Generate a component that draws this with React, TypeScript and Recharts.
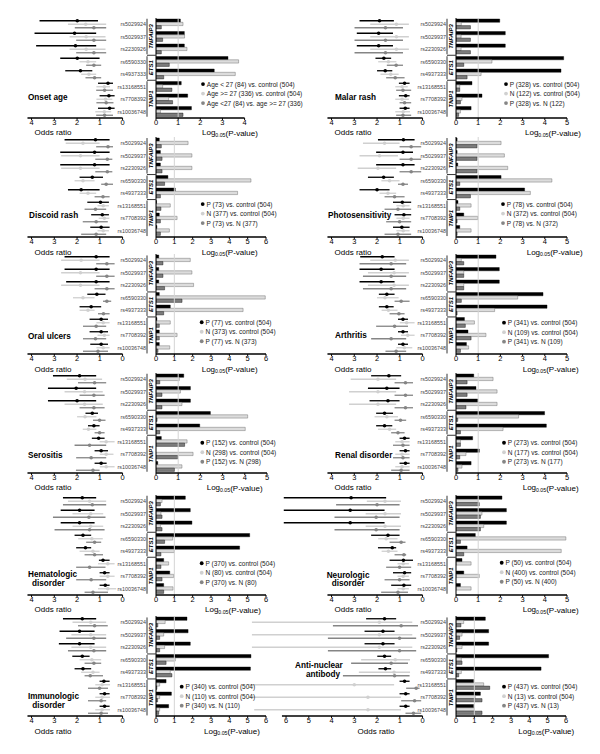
import React from 'react'
import { ScatterChart, Scatter, ErrorBar, XAxis, YAxis, BarChart, Bar, ReferenceLine } from 'recharts'

const snps = ['rs5029924', 'rs5029937', 'rs2230926', 'rs6590330', 'rs4937333', 'rs13168551', 'rs7708392', 'rs10036748']
const genes: [string, number, number][] = [['TNFAIP3', 0, 2], ['ETS1', 3, 4], ['TNIP1', 5, 7]]

// odds ratios per snp: [black OR, lo, hi, light OR, lo, hi, grey OR, lo, hi]
const onsetAgeOR = [
  [1.99, 1.08, 3.65, 1.62, 0.72, 2.4, 1.26, 0.72, 2.1],
  [2.11, 1.16, 3.87, 1.6, 0.75, 2.33, 1.26, 0.72, 2.04],
  [2.07, 1.16, 3.8, 1.6, 0.75, 2.33, 1.26, 0.72, 2.04],
  [1.99, 1.01, 2.74, 1.52, 1.16, 1.89, 1.26, 0.94, 1.6],
  [1.85, 1.33, 2.52, 1.48, 1.16, 1.82, 1.23, 0.94, 1.63],
  [0.64, 0.42, 1.08, 0.8, 0.55, 1.15, 0.79, 0.42, 1.16],
  [0.6, 0.35, 1.01, 0.75, 0.45, 1.15, 0.72, 0.4, 1.15],
  [0.57, 0.35, 1.08, 0.8, 0.5, 1.2, 0.79, 0.42, 1.16],
]
// log0.05 p-values per snp: [black, light, grey]
const onsetAgeP = [
  [1.1, 1.22, 0.24], [1.28, 1.29, 0.3], [1.28, 1.4, 0.24], [3.25, 3.73, 0.6],
  [2.63, 3.58, 0.35], [1.14, 0.3, 0.72], [1.43, 0.57, 0.75], [1.6, 0.2, 1.22],
]

const malarRashOR = [
  [1.89, 1.26, 2.77, 1.15, 0.6, 2.3, 1.63, 0.86, 2.99],
  [1.93, 1.3, 2.89, 1.15, 0.6, 2.3, 1.63, 0.86, 2.99],
  [1.93, 1.3, 2.89, 1.15, 0.6, 2.3, 1.63, 0.86, 2.99],
  [1.7, 1.38, 2.07, 1.5, 1.15, 1.95, 1.16, 0.86, 1.57],
  [1.64, 1.33, 2.0, 1.4, 1.05, 1.85, 1.2, 0.79, 1.6],
  [0.79, 0.57, 1.04, 0.9, 0.65, 1.2, 0.86, 0.5, 1.16],
  [0.74, 0.57, 1.04, 0.9, 0.6, 1.2, 0.79, 0.5, 1.01],
  [0.76, 0.57, 1.01, 0.85, 0.55, 1.2, 0.86, 0.5, 1.16],
]
const malarRashP = [
  [1.97, 0.24, 0.65], [2.22, 0.23, 0.65], [2.22, 0.23, 0.65], [4.85, 1.62, 0.35],
  [4.73, 1.13, 0.5], [0.72, 0.17, 0.17], [1.17, 0.27, 0.2], [0.68, 0.2, 0.12],
]

const discoidRashOR = [
  [1.19, 0.57, 2.55, 1.74, 1.01, 2.5, 0.64, 0.42, 1.16],
  [1.23, 0.57, 2.74, 1.85, 1.01, 2.7, 0.67, 0.45, 1.2],
  [1.23, 0.57, 2.74, 1.85, 1.01, 2.7, 0.67, 0.45, 1.2],
  [1.33, 0.86, 1.89, 1.74, 1.23, 2.11, 0.72, 0.42, 0.94],
  [1.82, 1.01, 2.4, 1.52, 1.16, 1.89, 0.86, 0.57, 1.23],
  [0.97, 0.6, 1.55, 0.85, 0.6, 1.1, 1.19, 0.72, 1.67],
  [0.89, 0.6, 1.38, 0.8, 0.58, 1.05, 1.16, 0.65, 1.75],
  [0.94, 0.57, 1.42, 0.85, 0.6, 1.1, 1.16, 0.72, 1.82],
]
const discoidRashP = [
  [0.18, 1.75, 0.29], [0.24, 1.96, 0.33], [0.24, 1.96, 0.33], [0.65, 5.18, 0.47],
  [1.05, 4.45, 0.24], [0.03, 0.78, 0.27], [0.18, 1.15, 0.24], [0.05, 0.73, 0.24],
]

const photosensitivityOR = [
  [0.84, 0.35, 1.96, 1.67, 1.01, 2.62, 0.5, 0.06, 1.01],
  [0.86, 0.42, 2.04, 1.89, 1.08, 2.77, 0.5, 0.06, 1.01],
  [0.86, 0.35, 2.04, 1.96, 1.16, 2.85, 0.5, 0.06, 1.01],
  [1.71, 1.26, 2.4, 1.45, 1.01, 1.81, 0.86, 0.64, 1.08],
  [2.0, 1.45, 2.77, 1.52, 1.16, 1.89, 1.23, 0.79, 1.67],
  [0.89, 0.5, 1.3, 0.85, 0.57, 1.15, 1.08, 0.5, 1.67],
  [0.82, 0.5, 1.23, 0.85, 0.57, 1.15, 1.01, 0.5, 1.6],
  [0.91, 0.57, 1.3, 0.85, 0.57, 1.15, 1.08, 0.5, 1.67],
]
const photosensitivityP = [
  [0.05, 2.03, 0.95], [0.05, 2.18, 0.95], [0.08, 2.33, 0.95], [2.03, 4.32, 0.17],
  [3.09, 3.35, 0.65], [0.09, 0.68, 0.17], [0.35, 0.98, 0.05], [0.17, 0.68, 0.05],
]

const oralUlcersOR = [
  [1.16, 0.57, 2.55, 1.82, 1.01, 2.7, 0.69, 0.35, 1.16],
  [1.16, 0.57, 2.55, 1.85, 1.01, 2.7, 0.69, 0.35, 1.16],
  [1.16, 0.57, 2.48, 1.85, 1.01, 2.7, 0.69, 0.35, 1.23],
  [1.13, 0.75, 1.55, 1.74, 1.23, 2.18, 0.69, 0.5, 0.86],
  [1.38, 0.94, 1.89, 1.52, 1.23, 1.89, 0.84, 0.57, 1.08],
  [0.94, 0.64, 1.45, 0.85, 0.57, 1.15, 1.16, 0.72, 1.74],
  [0.94, 0.64, 1.45, 0.8, 0.57, 1.1, 1.19, 0.72, 1.74],
  [0.94, 0.64, 1.42, 0.85, 0.57, 1.15, 1.08, 0.64, 1.74],
]
const oralUlcersP = [
  [0.15, 1.87, 0.38], [0.15, 1.96, 0.38], [0.15, 2.05, 0.47], [0.18, 5.96, 1.42],
  [0.78, 4.75, 0.42], [0.05, 0.78, 0.18], [0.18, 1.15, 0.18], [0.18, 0.75, 0.11],
]

const arthritisOR = [
  [1.77, 1.23, 2.74, 1.2, 0.6, 2.3, 1.38, 0.72, 2.77],
  [1.82, 1.23, 2.77, 1.25, 0.6, 2.4, 1.38, 0.72, 2.62],
  [1.82, 1.23, 2.77, 1.25, 0.6, 2.4, 1.38, 0.72, 2.62],
  [1.57, 1.23, 1.92, 1.65, 1.05, 2.0, 0.94, 0.57, 1.23],
  [1.57, 1.27, 1.92, 1.5, 1.1, 1.8, 1.04, 0.79, 1.45],
  [0.86, 0.64, 1.08, 0.7, 0.35, 1.0, 1.23, 0.64, 2.04],
  [0.86, 0.64, 1.08, 0.65, 0.35, 0.95, 1.38, 0.72, 2.26],
  [0.86, 0.64, 1.08, 0.8, 0.45, 1.15, 1.16, 0.72, 1.63],
]
const arthritisP = [
  [1.8, 0.24, 0.35], [1.95, 0.35, 0.35], [1.95, 0.35, 0.35], [3.92, 2.78, 0.24],
  [4.1, 1.74, 0.05], [0.38, 0.83, 0.42], [0.54, 1.35, 0.68], [0.47, 0.57, 0.2],
]

const serositisOR = [
  [1.89, 1.16, 3.06, 1.65, 0.9, 2.45, 1.23, 0.72, 1.96],
  [2.04, 1.16, 3.28, 1.67, 0.87, 2.55, 1.26, 0.79, 1.89],
  [2.0, 1.16, 3.28, 1.67, 0.87, 2.55, 1.26, 0.79, 1.89],
  [1.33, 1.08, 1.63, 1.65, 1.15, 2.0, 1.01, 0.75, 1.3],
  [1.26, 1.01, 1.52, 1.5, 1.15, 1.75, 1.01, 0.79, 1.23],
  [1.05, 0.79, 1.35, 0.72, 0.35, 1.01, 1.45, 0.72, 2.11],
  [0.94, 0.64, 1.23, 0.72, 0.4, 1.0, 1.38, 0.72, 2.04],
  [0.94, 0.7, 1.23, 0.72, 0.35, 1.0, 1.3, 1.01, 2.05],
]
const serositisP = [
  [1.25, 1.05, 0.17], [1.55, 1.1, 0.27], [1.55, 1.17, 0.27], [2.45, 4.13, 0.05],
  [1.97, 4.02, 0.17], [0.24, 1.4, 1.29], [0.0, 1.67, 0.98], [0.08, 1.17, 0.83],
]

const renalOR = [
  [1.48, 0.94, 2.26, 1.96, 1.16, 3.16, 0.75, 0.42, 1.23],
  [1.57, 1.01, 2.4, 1.96, 1.16, 3.23, 0.75, 0.42, 1.23],
  [1.52, 1.01, 2.33, 1.96, 1.16, 3.23, 0.75, 0.42, 1.23],
  [1.67, 1.3, 2.04, 1.57, 1.08, 2.11, 0.97, 0.72, 1.23],
  [1.67, 1.33, 2.04, 1.45, 1.16, 1.96, 1.08, 0.79, 1.38],
  [0.79, 0.57, 1.01, 0.9, 0.57, 1.2, 0.86, 0.57, 1.3],
  [0.75, 0.57, 1.01, 0.9, 0.57, 1.2, 0.86, 0.57, 1.3],
  [0.75, 0.57, 1.01, 0.9, 0.57, 1.2, 0.94, 0.57, 1.38],
]
const renalP = [
  [0.8, 1.67, 0.5], [0.9, 1.85, 0.5], [0.98, 1.85, 0.45], [3.99, 2.82, 0.08],
  [4.07, 2.12, 0.2], [0.75, 0.2, 0.2], [1.05, 0.45, 0.17], [0.68, 0.27, 0.09],
]

const hematologicOR = [
  [1.77, 1.16, 2.62, 1.45, 0.72, 2.4, 1.33, 0.72, 2.62],
  [1.89, 1.23, 2.72, 1.4, 0.85, 2.2, 1.48, 0.75, 3.06],
  [1.89, 1.23, 2.72, 1.4, 0.85, 2.2, 1.45, 0.79, 2.99],
  [1.74, 1.38, 2.11, 1.35, 0.87, 1.95, 1.23, 0.94, 1.6],
  [1.63, 1.38, 2.04, 1.3, 1.01, 1.89, 1.23, 0.86, 1.67],
  [0.86, 0.57, 1.04, 0.65, 0.35, 1.08, 1.45, 0.75, 2.04],
  [0.79, 0.57, 1.01, 0.65, 0.35, 1.01, 1.38, 0.72, 2.04],
  [0.76, 0.57, 1.01, 0.65, 0.28, 1.08, 1.3, 0.64, 1.67],
]
const hematologicP = [
  [1.6, 0.33, 0.24], [1.87, 0.27, 0.33], [1.96, 0.24, 0.33], [5.11, 0.91, 0.47],
  [4.56, 1.0, 0.27], [0.42, 0.69, 0.27], [0.75, 0.96, 0.33], [0.42, 0.93, 0.42],
]

const neurologicOR = [
  [3.14, 1.6, 6.1, 1.65, 0.95, 2.45, 2.0, 1.01, 3.8],
  [3.18, 1.67, 6.1, 1.65, 0.95, 2.5, 2.04, 1.01, 3.87],
  [3.18, 1.67, 6.1, 1.65, 0.95, 2.5, 2.04, 1.01, 3.87],
  [1.52, 1.01, 2.26, 1.6, 1.1, 1.95, 0.94, 0.75, 1.45],
  [1.33, 1.16, 1.96, 1.5, 1.1, 1.8, 0.82, 0.72, 1.23],
  [0.84, 0.42, 1.45, 0.85, 0.6, 1.1, 1.01, 0.5, 1.6],
  [0.79, 0.5, 1.3, 0.85, 0.6, 1.1, 1.01, 0.57, 1.67],
  [0.82, 0.5, 1.38, 0.85, 0.6, 1.1, 1.08, 0.64, 1.82],
]
const neurologicP = [
  [2.07, 1.0, 1.05], [2.27, 1.17, 1.1], [2.27, 1.25, 1.1], [0.87, 4.95, 0.2],
  [0.5, 4.74, 0.35], [0.27, 0.68, 0.0], [0.35, 1.05, 0.0], [0.2, 0.68, 0.0],
]

const immunologicOR = [
  [1.77, 1.16, 2.62, 1.4, 0.72, 2.2, 1.23, 0.65, 1.96],
  [1.89, 1.23, 2.77, 1.4, 0.72, 2.25, 1.26, 0.72, 2.48],
  [1.89, 1.23, 2.8, 1.4, 0.72, 2.25, 1.26, 0.72, 2.4],
  [1.77, 1.45, 2.21, 1.35, 0.94, 1.89, 1.26, 0.94, 1.67],
  [1.74, 1.38, 2.11, 1.3, 1.01, 1.82, 1.42, 0.86, 1.67],
  [0.82, 0.57, 1.01, 0.9, 0.55, 1.2, 1.01, 0.64, 1.52],
  [0.79, 0.57, 1.01, 0.9, 0.55, 1.2, 0.94, 0.72, 1.52],
  [0.79, 0.57, 1.01, 0.9, 0.55, 1.2, 0.94, 0.64, 1.52],
]
const immunologicP = [
  [1.69, 0.5, 0.1], [1.75, 0.42, 0.2], [1.87, 0.47, 0.2], [5.18, 1.05, 0.55],
  [5.15, 0.78, 0.87], [0.55, 0.2, 0.05], [0.84, 0.2, 0.09], [0.69, 0.2, 0.15],
]

const antiNuclearOR = [
  [1.67, 1.16, 2.48, 1.9, 0.45, 7.5, 0.94, 0.2, 3.94],
  [1.74, 1.23, 2.55, 1.9, 0.45, 7.5, 1.01, 0.28, 4.16],
  [1.74, 1.23, 2.55, 1.9, 0.45, 7.5, 1.01, 0.28, 4.16],
  [1.67, 1.38, 1.99, 1.2, 0.55, 2.7, 1.38, 0.64, 3.14],
  [1.63, 1.38, 1.94, 1.25, 0.55, 2.8, 1.23, 0.57, 3.5],
  [0.79, 0.57, 1.01, 3.0, 1.25, 7.7, 0.28, 0.13, 0.72],
  [0.74, 0.57, 1.01, 2.4, 0.95, 7.6, 0.35, 0.06, 0.94],
  [0.74, 0.57, 1.01, 2.4, 0.95, 7.4, 0.4, 0.06, 0.75],
]
const antiNuclearP = [
  [1.6, 0.42, 0.27], [1.78, 0.33, 0.2], [1.78, 0.33, 0.05], [5.05, 0.29, 0.33],
  [4.64, 0.29, 0.15], [0.96, 1.51, 1.84], [1.33, 1.05, 1.42], [0.96, 1.0, 1.42],
]

const pnLegend = (p: number, n: number) => [
  `P (${p}) vs. control (504)`,
  `N (${n}) vs. control (504)`,
  `P (${p}) vs. N (${n})`,
]

type Panel = {
  title: [string, number, number][]
  or: number[][]
  p: number[][]
  legend: string[]
  pMax: number
  orMax: number
  col: number
  row: number
  legendX: number
  legendY: number
  logX: number
  oddsX: number
}

const panels: Panel[] = [
  { title: [['Onset age', 28, -20.75]], or: onsetAgeOR, p: onsetAgeP, pMax: 4, orMax: 4, col: 0, row: 0, legendX: 203, legendY: -33.7, logX: 202, oddsX: 53,
    legend: ['Age < 27 (84) vs. control (504)', 'Age >= 27 (336) vs. control (504)', 'Age <27 (84) vs. age >= 27 (336)'] },
  { title: [['Malar rash', 35, -20.75]], or: malarRashOR, p: malarRashP, pMax: 5, orMax: 4, col: 1, row: 0, legendX: 206, legendY: -33.7, logX: 225, oddsX: 53, legend: pnLegend(328, 122) },
  { title: [['Discoid rash', 29, -22]], or: discoidRashOR, p: discoidRashP, pMax: 6, orMax: 4, col: 0, row: 1, legendX: 202.7, legendY: -33, logX: 201.7, oddsX: 53, legend: pnLegend(73, 377) },
  { title: [['Photosensitivity', 28, -22]], or: photosensitivityOR, p: photosensitivityP, pMax: 5, orMax: 4, col: 1, row: 1, legendX: 203, legendY: -33, logX: 226.7, oddsX: 53, legend: pnLegend(78, 372) },
  { title: [['Oral ulcers', 28, -17.5]], or: oralUlcersOR, p: oralUlcersP, pMax: 6, orMax: 4, col: 0, row: 2, legendX: 201.7, legendY: -32.2, logX: 201.7, oddsX: 53, legend: pnLegend(77, 373) },
  { title: [['Arthritis', 35, -18.5]], or: arthritisOR, p: arthritisP, pMax: 5, orMax: 4, col: 1, row: 2, legendX: 204, legendY: -31.8, logX: 222.7, oddsX: 53, legend: pnLegend(341, 109) },
  { title: [['Serositis', 28, -17.75]], or: serositisOR, p: serositisP, pMax: 5, orMax: 4, col: 0, row: 3, legendX: 202.3, legendY: -30, logX: 206.7, oddsX: 53, legend: pnLegend(152, 298) },
  { title: [['Renal disorder', 35, -17]], or: renalOR, p: renalP, pMax: 5, orMax: 4, col: 1, row: 3, legendX: 204, legendY: -30, logX: 222.7, oddsX: 53, legend: pnLegend(273, 177) },
  { title: [['Hematologic', 28, -20.75], ['disorder', 32, -11.75]], or: hematologicOR, p: hematologicP, pMax: 6, orMax: 4, col: 0, row: 4, legendX: 201.7, legendY: -31.5, logX: 205, oddsX: 53, legend: pnLegend(370, 80) },
  { title: [['Neurologic', 26.7, -19.75], ['disorder', 31.7, -11.75]], or: neurologicOR, p: neurologicP, pMax: 5, orMax: 4, col: 1, row: 4, legendX: 201.7, legendY: -32, logX: 222.7, oddsX: 53, legend: pnLegend(50, 400) },
  { title: [['Immunologic', 28, -19.5], ['disorder', 32.3, -10.5]], or: immunologicOR, p: immunologicP, pMax: 6, orMax: 4, col: 0, row: 5, legendX: 181.7, legendY: -29.8, logX: 204, oddsX: 53, legend: pnLegend(340, 110) },
  { title: [['Anti-nuclear', -5, -50.5], ['antibody', 6, -41.5]], or: antiNuclearOR, p: antiNuclearP, pMax: 6, orMax: 6, col: 1, row: 5, legendX: 204, legendY: -29.8, logX: 218.3, oddsX: 76, legend: pnLegend(437, 13) },
]

const ROW_TOP = [17.75, 137.05, 254.45, 372.75, 494.75, 616.45]
const COL_X = [0, 300]
const PLOT_H = 100
const AXIS_H = 25
const OR_ZERO = 123
const OR_UNIT = 22.75
const BAR_ZERO = 155.7
const BAR_W: Record<number, number> = { 4: 88.6, 5: 111, 6: 110 }
const SNP_W = 60
const SLOT = PLOT_H / snps.length
const DOT = ['#000000', '#d0d0d0', '#858585']
const FILL = ['#000000', '#dcdcdc', '#7d7d7d']
const FONT = '"Liberation Sans", Arial, sans-serif'
const TICK = { fontSize: 7.5, fill: '#000', fontFamily: FONT }

function Forest({ panel }: { panel: Panel }) {
  const span = panel.col === 0 ? 5.3 : 8.2
  const w = OR_UNIT * span
  const ticks = Array.from({ length: panel.orMax + 1 }, (_, i) => i)
  const series = [0, 1, 2].map((s) =>
    panel.or.map((r, i) => ({
      x: r[s * 3],
      y: i + (s - 1) * 0.28,
      err: [r[s * 3] - r[s * 3 + 1], r[s * 3 + 2] - r[s * 3]],
    })),
  )
  return (
    <div style={{ position: 'absolute', left: COL_X[panel.col] + OR_ZERO - w, top: ROW_TOP[panel.row] }}>
      <ScatterChart width={w + 10} height={PLOT_H + AXIS_H} margin={{ top: 0, right: 10, bottom: 0, left: 0 }}>
        <XAxis
          type="number"
          dataKey="x"
          domain={[0, span]}
          reversed
          allowDataOverflow
          ticks={ticks}
          interval={0}
          axisLine={false}
          tickSize={2}
          tickMargin={0}
          height={AXIS_H}
          tickLine={{ stroke: '#000' }}
          tick={TICK}
        />
        <YAxis type="number" dataKey="y" domain={[-0.5, 7.5]} reversed hide allowDataOverflow />
        <ReferenceLine
          segment={[{ x: panel.orMax + 0.18, y: 7.5 }, { x: 0, y: 7.5 }]}
          stroke="#000"
          strokeWidth={1.3}
        />
        {series.map((d, s) => (
          <Scatter
            key={s}
            data={d}
            isAnimationActive={false}
            shape={(p: any) => <circle cx={p.cx} cy={p.cy} r={1.8} fill={DOT[s]} />}
          >
            <ErrorBar dataKey="err" direction="x" width={0} stroke={DOT[s]} strokeWidth={1.3} isAnimationActive={false} />
          </Scatter>
        ))}
      </ScatterChart>
    </div>
  )
}

function PBars({ panel }: { panel: Panel }) {
  const w = BAR_W[panel.pMax]
  const ticks = Array.from({ length: panel.pMax + 1 }, (_, i) => i)
  const data = snps.map((snp, i) => ({ snp, b: panel.p[i][0], l: panel.p[i][1], g: panel.p[i][2] }))
  return (
    <div style={{ position: 'absolute', left: COL_X[panel.col] + BAR_ZERO - SNP_W, top: ROW_TOP[panel.row] }}>
      <BarChart
        layout="vertical"
        width={SNP_W + w + 10}
        height={PLOT_H + AXIS_H}
        data={data}
        margin={{ top: 0, right: 10, bottom: 0, left: 0 }}
        barGap={0}
      >
        <XAxis
          type="number"
          domain={[0, panel.pMax]}
          allowDataOverflow
          ticks={ticks}
          interval={0}
          tickSize={2}
          tickMargin={0}
          height={AXIS_H}
          axisLine={{ stroke: '#000', strokeWidth: 1.3 }}
          tickLine={{ stroke: '#000' }}
          tick={TICK}
        />
        <YAxis
          type="category"
          dataKey="snp"
          width={SNP_W}
          interval={0}
          tickSize={0}
          tickMargin={10}
          tickLine={false}
          axisLine={{ stroke: '#000', strokeWidth: 1 }}
          tick={{ fontSize: 5.4, fill: '#444', fontFamily: FONT }}
        />
        <ReferenceLine x={1} stroke="#d4d4d4" strokeWidth={1} />
        {['b', 'l', 'g'].map((k, s) => (
          <Bar
            key={k}
            dataKey={k}
            barSize={3.3}
            fill={FILL[s]}
            stroke={s === 1 ? '#555' : '#000'}
            strokeWidth={0.4}
            isAnimationActive={false}
          />
        ))}
      </BarChart>
    </div>
  )
}

function Labels({ panel }: { panel: Panel }) {
  const x0 = COL_X[panel.col]
  const top = ROW_TOP[panel.row]
  const axisY = top + PLOT_H
  return (
    <g fontFamily={FONT}>
      {panel.title.map(([t, x, y]) => (
        <text key={t} x={x0 + x} y={axisY + y} fontSize={8.2} fontWeight="bold" dominantBaseline="central">
          {t}
        </text>
      ))}
      {panel.legend.map((t, i) => (
        <g key={t}>
          <circle cx={x0 + panel.legendX} cy={axisY + panel.legendY + i * 9.5} r={1.9} fill={DOT[i]} />
          <text
            x={x0 + panel.legendX + 3.8}
            y={axisY + panel.legendY + i * 9.5}
            fontSize={6.5}
            fill="#222"
            dominantBaseline="central"
          >
            {t}
          </text>
        </g>
      ))}
      <text x={x0 + panel.oddsX} y={axisY + 15} fontSize={8} textAnchor="middle" dominantBaseline="central">
        Odds ratio
      </text>
      <text x={x0 + panel.logX} y={axisY + 15} fontSize={8} dominantBaseline="central">
        Log
        <tspan fontSize={5.2} dy={2}>0.05</tspan>
        <tspan dy={-2}>(P-value)</tspan>
      </text>
      {genes.map(([g, a, b]) => {
        const y1 = top + a * SLOT + 1
        const y2 = top + (b + 1) * SLOT - 1
        const cx = x0 + 150.8
        const cy = (y1 + y2) / 2
        return (
          <g key={g}>
            <line x1={x0 + 147} x2={x0 + 147} y1={y1} y2={y2} stroke="#000" strokeWidth={0.8} />
            {a > 0 && (
              <line x1={x0 + 147} x2={x0 + BAR_ZERO} y1={top + a * SLOT} y2={top + a * SLOT} stroke="#000" strokeWidth={0.8} />
            )}
            <text
              x={cx}
              y={cy}
              fontSize={6}
              fontWeight="bold"
              fontStyle="italic"
              textAnchor="middle"
              dominantBaseline="central"
              transform={`rotate(-90 ${cx} ${cy})`}
            >
              {g}
            </text>
          </g>
        )
      })}
    </g>
  )
}

export default function App() {
  return (
    <div style={{ position: 'relative', width: 600, height: 754, background: '#fff', overflow: 'hidden' }}>
      <style>{'body{margin:0}'}</style>
      {panels.map((p, i) => (
        <React.Fragment key={i}>
          <PBars panel={p} />
          <Forest panel={p} />
        </React.Fragment>
      ))}
      <svg width={600} height={754} style={{ position: 'absolute', left: 0, top: 0, pointerEvents: 'none' }}>
        {panels.map((p, i) => (
          <Labels key={i} panel={p} />
        ))}
      </svg>
    </div>
  )
}
